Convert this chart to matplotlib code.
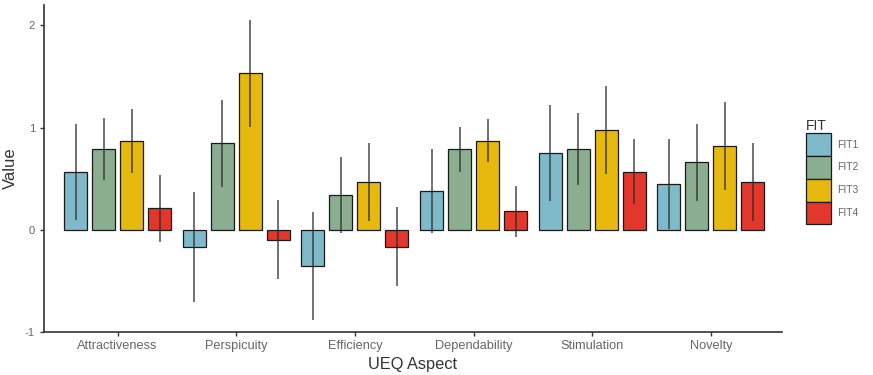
import numpy as np
import matplotlib
matplotlib.use("Agg")
import matplotlib.pyplot as plt

plt.rcParams['font.family'] = ['Liberation Sans', 'DejaVu Sans']

aspects = ["Attractiveness", "Perspicuity", "Efficiency", "Dependability", "Stimulation", "Novelty"]
groups = ["FIT1", "FIT2", "FIT3", "FIT4"]

# mean values per group, one entry per aspect
fit1 = [0.57, -0.17, -0.355, 0.38, 0.75, 0.445]
fit2 = [0.79, 0.845, 0.34, 0.79, 0.79, 0.66]
fit3 = [0.87, 1.53, 0.47, 0.87, 0.975, 0.82]
fit4 = [0.21, -0.095, -0.165, 0.18, 0.57, 0.47]

# half width of the error bars
err1 = [0.47, 0.54, 0.53, 0.41, 0.47, 0.44]
err2 = [0.30, 0.43, 0.37, 0.22, 0.35, 0.38]
err3 = [0.31, 0.52, 0.38, 0.21, 0.43, 0.43]
err4 = [0.33, 0.39, 0.385, 0.25, 0.32, 0.38]

colors = ["#7fbacb", "#8aae8f", "#e7b80e", "#e2372a"]

fig = plt.figure(figsize=(8.73, 3.75), dpi=100)
ax = fig.add_axes([44/873, 1-332/375, (782-44)/873, (332-5)/375])

x = np.arange(len(aspects))
offsets = [-1.5, -0.5, 0.5, 1.5]
step = 0.236
width = 0.195

for vals, errs, col, lab, off in zip([fit1, fit2, fit3, fit4], [err1, err2, err3, err4],
                                     colors, groups, offsets):
    xs = x + off * step
    ax.bar(xs, vals, width=width, color=col, edgecolor="#1a1a1a", linewidth=0.9, label=lab, zorder=2)
    ax.errorbar(xs, vals, yerr=errs, fmt="none", ecolor="#2b2b2b", elinewidth=1.3,
                capsize=0, alpha=0.72, zorder=3)

ax.set_xlim(-0.62, 5.6)
ax.set_ylim(-1, 2.2)
ax.set_yticks([-1, 0, 1, 2])
ax.set_yticklabels(["-1", "0", "1", "2"])
ax.set_xticks(x)
ax.set_xticklabels(aspects)

for s in ["top", "right"]:
    ax.spines[s].set_visible(False)
for s in ["left", "bottom"]:
    ax.spines[s].set_linewidth(1.2)
    ax.spines[s].set_color("#333333")

ax.tick_params(axis="x", labelsize=9.2, colors="#333333", labelcolor="#666666",
               length=3, width=1, pad=3)
ax.tick_params(axis="y", labelsize=8, colors="#333333", labelcolor="#666666",
               length=3, width=1)

ax.set_xlabel("UEQ Aspect", fontsize=11.8, color="#333333", labelpad=3)
ax.set_ylabel("Value", fontsize=12, color="#333333", labelpad=5)

leg = ax.legend(loc="center left", bbox_to_anchor=(1.025, 0.49), frameon=False,
                title="FIT", fontsize=7.5, title_fontsize=10,
                handlelength=2.4, handleheight=3.0, labelspacing=0.0,
                handletextpad=0.6, borderpad=0)
leg._legend_box.align = "left"
for t in leg.get_texts():
    t.set_color("#666666")
leg.get_title().set_color("#333333")

fig.savefig("out.png", dpi=100)
